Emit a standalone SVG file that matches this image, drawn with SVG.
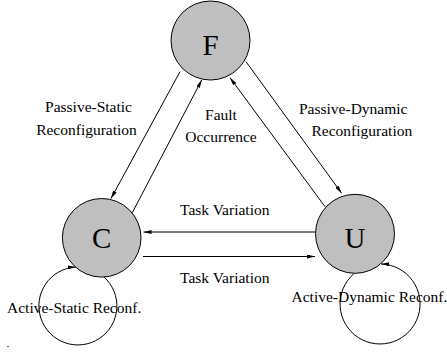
<svg xmlns="http://www.w3.org/2000/svg" width="447" height="353" viewBox="0 0 447 353">
  <style>
    .edge { fill: none; stroke: #000; stroke-width: 1; }
    .node circle { fill: #bfbfbf; stroke: #000; stroke-width: 1; }
    .node text { font-family: "Liberation Serif", "Times New Roman", serif; font-size: 29px; text-anchor: middle; fill: #000; }
    .label { font-family: "Liberation Serif", "Times New Roman", serif; font-size: 15.5px; fill: #000; }
    .mid { text-anchor: middle; }
  </style>
  <defs>
    <marker id="arrow" viewBox="0 0 8 4" refX="8" refY="2" markerWidth="8" markerHeight="4" markerUnits="userSpaceOnUse" orient="auto">
      <path d="M0,0 L8,2 L0,4 z" fill="#000"/>
    </marker>
  </defs>

  <rect width="447" height="353" fill="#fff"/>

  <!-- connectors -->
  <g id="connectors">
    <path class="edge" d="M180,71.7 L111,198.5" marker-end="url(#arrow)"/>
    <path class="edge" d="M132.3,212.7 L201.7,80" marker-end="url(#arrow)"/>
    <path class="edge" d="M325,206.7 L230,77.7" marker-end="url(#arrow)"/>
    <path class="edge" d="M246,61.7 L341.7,193.3" marker-end="url(#arrow)"/>
    <path class="edge" d="M315,232 L143.5,232" marker-end="url(#arrow)"/>
    <path class="edge" d="M143,256.5 L315,256.5" marker-end="url(#arrow)"/>
    <!-- self loops -->
    <path class="edge" d="M103.8,276.8 A39,39 0 1 1 75.8,267" marker-end="url(#arrow)"/>
    <path class="edge" d="M353.8,273.8 A40,40 0 1 0 381.2,264" marker-end="url(#arrow)"/>
  </g>

  <!-- states -->
  <g id="node-F" class="node">
    <circle cx="210.5" cy="40.5" r="39.5"/>
    <text x="210.5" y="54.5">F</text>
  </g>
  <g id="node-C" class="node">
    <circle cx="101.7" cy="237.8" r="39.3"/>
    <text x="101.7" y="247.5">C</text>
  </g>
  <g id="node-U" class="node">
    <circle cx="355" cy="233.8" r="39.5"/>
    <text x="355" y="247.5">U</text>
  </g>

  <!-- transition labels -->
  <g id="labels">
    <text class="label mid" x="88.5" y="111.5">Passive-Static</text>
    <text class="label mid" x="86.5" y="135">Reconfiguration</text>
    <text class="label mid" x="221" y="119.5">Fault</text>
    <text class="label mid" x="221" y="141.5">Occurrence</text>
    <text class="label" x="299" y="113.5">Passive-Dynamic</text>
    <text class="label" x="311.5" y="136">Reconfiguration</text>
    <text class="label" x="180" y="215">Task Variation</text>
    <text class="label" x="180" y="283">Task Variation</text>
    <text class="label" x="7" y="313">Active-Static Reconf.</text>
    <text class="label" x="291.5" y="301.5">Active-Dynamic Reconf.</text>
  </g>

  <rect x="7" y="346" width="2" height="1" fill="#666"/>
</svg>
